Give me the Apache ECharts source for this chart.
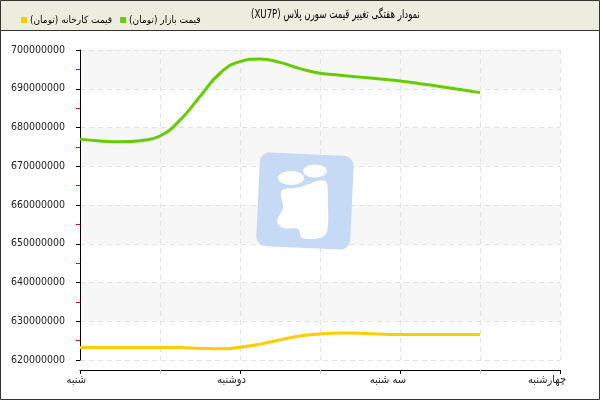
<!DOCTYPE html>
<html>
<head>
<meta charset="utf-8">
<script src="https://cdn.jsdelivr.net/npm/echarts@6/dist/echarts.min.js"></script>
<style>html,body{margin:0;padding:0;background:#fff}#c{width:600px;height:400px}</style>
</head>
<body>
<div id="c"></div>
<script>
// ---- data ----
var dayNames = ['شنبه', 'دوشنبه', 'سه شنبه', 'چهارشنبه'];
var dayPositions = [0, 0.125, 0.25, 0.375, 0.5, 0.625, 0.75, 0.875, 1, 1.125, 1.25, 1.375, 1.5, 1.625, 1.75, 1.875, 2, 2.125, 2.25, 2.375, 2.5];
var marketPrices = [677.0, 676.5, 676.3, 676.6, 677.8, 681.9, 688.0, 694.0, 697.0, 697.7, 696.8, 695.2, 694.0, 693.5, 693.0, 692.5, 692.0, 691.3, 690.6, 689.8, 689.0];
var factoryPrices = [623.2, 623.2, 623.2, 623.2, 623.2, 623.2, 623.0, 622.9, 623.3, 624.1, 625.2, 626.2, 626.7, 627.0, 626.9, 626.7, 626.6, 626.6, 626.6, 626.6, 626.6];
var seriesNames = ['قیمت کارخانه (تومان)', 'قیمت بازار (تومان)'];
var titleText = 'نمودار هفتگی تغییر قیمت سورن پلاس (XU7P)';
var yAxisName = 'قیمت';
var million = 1000000;

function pairs(vals) {
  return dayPositions.map(function (d, i) { return [d, Math.round(vals[i] * million)]; });
}
function rtl(s) { return '\u202B' + s + '\u202C'; }

var FONT = "'DejaVu Sans Condensed', 'DejaVu Sans', sans-serif";
var chart = echarts.init(document.getElementById('c'), null, {renderer: 'canvas'});
var Z = 5;
chart.setOption({
  animation: false,
  backgroundColor: '#fff',
  legend: {
    left: 16, top: 10,
    itemWidth: 6, itemHeight: 6, itemGap: 8,
    icon: 'rect',
    data: seriesNames,
    formatter: function (n) { return rtl(n); },
    textStyle: {fontSize: 10, color: '#000', fontFamily: FONT, padding: [0, 0, 0, -2]}
  },
  graphic: [
    {type: 'rect', z: -10, silent: true, shape: {x: 0, y: 0, width: 600, height: 31}, style: {fill: '#ededdf'}},
    {type: 'line', z: 10, silent: true, shape: {x1: 0, y1: 30.5, x2: 600, y2: 30.5}, style: {stroke: '#333', lineWidth: 1}},
    {type: 'rect', z: 10, silent: true, shape: {x: 0.5, y: 0.5, width: 599, height: 399}, style: {fill: 'none', stroke: '#333', lineWidth: 1}},
    {type: 'text', z: 10, silent: true, x: 420, y: 15, scaleX: 0.8, originX: 0, originY: 0,
      style: {text: rtl(titleText), align: 'right', verticalAlign: 'middle', fill: '#000', fontSize: 12, fontFamily: FONT}},
    {type: 'rect', z: Z, silent: true, x: 305, y: 201, rotation: -0.045, shape: {x: -47, y: -47, width: 94, height: 94, r: 10}, style: {fill: '#c6daf6'}},
    {type: 'ellipse', z: Z + 1, silent: true, shape: {cx: 291, cy: 178, rx: 13, ry: 7}, style: {fill: '#fff'}},
    {type: 'ellipse', z: Z + 1, silent: true, shape: {cx: 315, cy: 171, rx: 12, ry: 6.5}, style: {fill: '#fff'}},
    {type: 'polygon', z: Z + 1, silent: true, shape: {smooth: 0.3, points: [[282, 190], [300, 187], [325, 181], [328, 205], [327, 232], [320, 238], [302, 238], [298, 229], [283, 228], [277, 221], [283, 208], [281, 196]]}, style: {fill: '#fff'}}
  ],
  grid: {left: 80, right: 40, top: 50, bottom: 40, containLabel: false, outerBoundsMode: 'none'},
  xAxis: {
    type: 'value', min: 0, max: 3, interval: 1,
    offset: 10,
    axisLine: {show: true, lineStyle: {color: '#000', width: 1}},
    axisTick: {show: true, length: 4, lineStyle: {color: '#000'}},
    minorTick: {show: true, splitNumber: 2, length: 4, lineStyle: {color: '#ccc'}},
    axisLabel: {color: '#222', fontSize: 11, fontFamily: FONT, margin: 5, align: 'right', padding: [0, -6, 0, 0],
      formatter: function (v) { var i = Math.round(v); return (Math.abs(v - i) < 1e-6 && dayNames[i]) ? dayNames[i] : ''; }},
    splitLine: {show: true, lineStyle: {color: '#e2e2e2', type: [5, 4]}},
    minorSplitLine: {show: true, lineStyle: {color: '#e2e2e2', type: [5, 4]}}
  },
  yAxis: {
    type: 'value', min: 620 * million, max: 700 * million, interval: 10 * million,
    offset: 10,
    name: yAxisName, nameLocation: 'middle', nameGap: 62,
    nameTextStyle: {color: '#000', fontSize: 11, fontFamily: FONT},
    axisLine: {show: true, lineStyle: {color: '#000', width: 1}},
    axisTick: {show: true, length: 4, lineStyle: {color: '#000'}},
    minorTick: {show: true, splitNumber: 2, length: 4, lineStyle: {color: '#e00'}},
    axisLabel: {color: '#222', fontSize: 10.5, fontFamily: FONT, margin: 5,
      formatter: function (v) { return String(v); }},
    splitLine: {show: true, lineStyle: {color: '#e2e2e2', type: [5, 4]}},
    splitArea: {show: true, areaStyle: {color: ['rgba(255,255,255,0)', '#f7f7f7']}}
  },
  series: [
    {name: seriesNames[0], type: 'line', smooth: true, showSymbol: false, data: pairs(factoryPrices),
      itemStyle: {color: '#ffcc00'}, lineStyle: {color: '#ffcc00', width: 3}},
    {name: seriesNames[1], type: 'line', smooth: true, showSymbol: false, data: pairs(marketPrices),
      itemStyle: {color: '#66cc00'}, lineStyle: {color: '#66cc00', width: 3}}
  ]
});
</script>
</body>
</html>
